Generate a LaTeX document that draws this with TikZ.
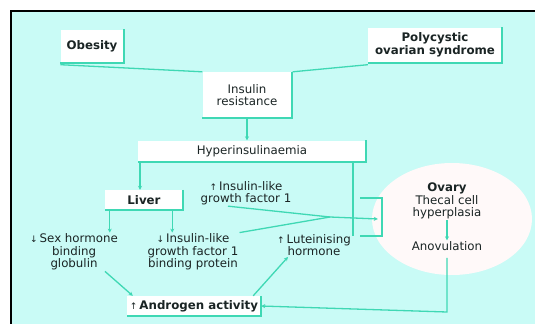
\documentclass[tikz,border=0pt]{standalone}
\usepackage{fontspec}
\setmainfont{DejaVu Sans}
\usetikzlibrary{positioning, arrows.meta, shapes.geometric}
\definecolor{bgCyan}{HTML}{C9FBF6}
\definecolor{lnTeal}{HTML}{3FD8B4}
\definecolor{txtDark}{HTML}{1A2424}
\definecolor{ovFill}{HTML}{FFF9F9}
\newcommand{\incr}{{\small\textmd{↑}}\,}
\newcommand{\decr}{{\small\textmd{↓}}\,}
\begin{document}
\begin{tikzpicture}[x=1pt,y=-1pt,box/.style={fill=white, inner sep=2pt, align=center, font=\fontsize{11.8}{12.5}\selectfont, text=txtDark},txt/.style={align=center, inner sep=1pt, font=\fontsize{11.8}{12.5}\selectfont, text=txtDark},link/.style={draw=lnTeal, line width=1.3pt},arr/.style={link, -{Stealth[length=4pt,width=4pt]}},edge/.style={draw=lnTeal, line width=1.6pt}]
\useasboundingbox (0,0) rectangle (535,324);
\fill[white] (0,0) rectangle (535,324);
\fill[bgCyan] (11,11) rectangle (535,324);
\draw[black, line width=2pt] (10,11) -- (535,11); \draw[black, line width=2pt] (11,10) -- (11,324);
% boxes
\node[box, minimum width=63pt, minimum height=33pt] (obesity) at (92,46) {\textbf{Obesity}};
\node[box, minimum width=134pt, minimum height=35pt] (pcos) at (435,45) {\textbf{Polycystic}\\\textbf{ovarian syndrome}};
\node[box, minimum width=89pt, minimum height=46pt] (insres) at (247,95) {Insulin\\resistance};
\node[box, minimum width=228pt, minimum height=21pt] (hyper) at (252,151) {Hyperinsulinaemia};
\node[box, minimum width=78pt, minimum height=20pt] (liver) at (144,200) {\textbf{Liver}};
\node[txt] (igf1) at (246,193) {\incr Insulin-like\\growth factor 1};
\node[txt] (shbg) at (74,252) {\decr Sex hormone\\binding\\globulin};
\node[txt] (igfbp) at (193,252) {\decr Insulin-like\\growth factor 1\\binding protein};
\node[txt] (lh) at (314,245) {\incr Luteinising\\hormone};
\node[box, minimum width=134pt, minimum height=20pt] (androgen) at (194,306) {\incr\textbf{Androgen activity}};
\node[ellipse, fill=ovFill, minimum width=160pt, minimum height=112pt] (ovary) at (452,219) {};
\node[txt] (ovtxt) at (447,201) {\textbf{Ovary}\\Thecal cell\\hyperplasia};
\node[txt, below=20pt of ovtxt] (anov) {Anovulation};
\foreach \b in {obesity,pcos,insres,hyper,liver,androgen} \draw[edge] (\b.north east) -- (\b.south east) -- (\b.south west);
% connectors
\coordinate (hyjoin) at (353,236); \coordinate (igfjoin) at (330,217);
\coordinate (brtl) at (360,198); \coordinate (brtop) at (382,198); \coordinate (brbot) at (382,236); \coordinate (brbl) at (360,236);
\draw[link] ([yshift=-2pt]obesity.south west) -- (insres.north west);
\draw[link] ([yshift=-2pt]pcos.south west) -- ([xshift=1pt]insres.north east);
\draw[arr] (insres.south) -- (insres.south |- hyper.north);
\draw[arr] ([xshift=-4pt]liver.north |- hyper.south) -- ([xshift=-4pt]liver.north);
\draw[link] (hyper.south -| hyjoin) -- (hyjoin);
\draw[link] (brtl) -- (brtop) -- (brbot) -- (brbl);
\draw[arr] ([xshift=5pt]liver.south west) -- ([xshift=5pt]liver.south west |- shbg.north);
\draw[arr] ([xshift=-11pt]liver.south east) -- ([xshift=-11pt]liver.south east |- igfbp.north);
\draw[link] ([xshift=-18pt]igf1.south) -- (igfjoin);
\draw[link] (igfbp.north east) -- (igfjoin);
\draw[arr] (igfjoin) -- ([xshift=6pt]ovary.west);
\draw[arr] ([xshift=-14pt]shbg.south east) -- ([xshift=6pt]androgen.north west);
\draw[arr] ([xshift=-8pt]androgen.north east) -- ([xshift=12pt]lh.south west);
\draw[arr] (ovtxt.south) -- (anov.north);
\draw[arr] ([yshift=-6pt]anov.south) -- ([yshift=-6pt]anov.south |- androgen.east) -- (androgen.east);
\end{tikzpicture}
\end{document}
